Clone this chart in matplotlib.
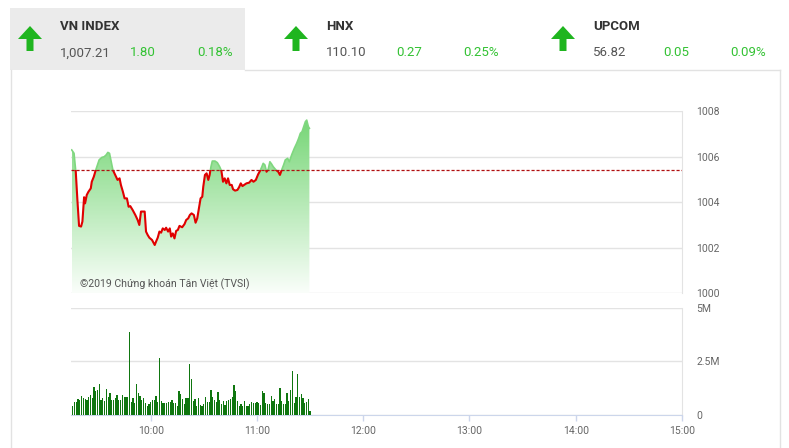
import numpy as np
import matplotlib
matplotlib.use("Agg")
import matplotlib.pyplot as plt
from matplotlib import font_manager
from matplotlib.patches import Rectangle, Polygon, PathPatch

# ---- data ----
# index line: minutes after 09:00, index value
price_min = [15.39, 16.71, 17.66, 18.61, 19.55, 20.68, 21.44, 22.39, 22.95, 23.90,
             24.84, 26.17, 26.73, 27.87, 29.00, 29.95, 30.89, 32.41, 33.73, 34.86,
             35.81, 36.75, 37.70, 38.64, 39.97, 41.29, 42.42, 43.18, 44.31, 45.26,
             46.58, 47.53, 48.47, 49.80, 51.31, 52.63, 53.58, 54.52, 55.47, 56.60,
             57.36, 58.30, 59.25, 60.76, 62.27, 63.03, 63.97, 64.92, 65.87, 66.81,
             67.95, 68.70, 69.83, 70.78, 71.54, 72.48, 73.43, 74.37, 75.32, 76.26,
             77.77, 79.10, 80.04, 81.18, 82.12, 83.07, 84.39, 85.34, 86.28, 87.23,
             88.17, 89.12, 89.68, 90.63, 91.57, 92.52, 93.28, 94.03, 94.79, 96.30,
             97.62, 98.95, 99.89, 100.84, 101.78, 102.73, 103.67, 104.62, 105.75, 106.51,
             107.64, 108.97, 109.91, 110.86, 111.80, 112.75, 114.07, 115.58, 116.91, 118.04,
             119.36, 120.69, 121.82, 122.77, 123.52, 124.47, 125.41, 126.36, 127.30, 128.25,
             129.19, 130.70, 132.03, 132.97, 134.11, 135.05, 136.00, 137.32, 138.27, 139.59,
             141.10, 142.43, 143.56, 144.51, 145.45, 146.40, 147.34, 148.10, 149.04, 149.61]
price_val = [1006.29, 1006.14, 1005.38, 1004.09, 1002.95, 1002.92, 1003.14, 1004.21, 1003.94, 1004.31,
             1004.45, 1004.60, 1004.89, 1005.11, 1005.41, 1005.63, 1005.85, 1005.96, 1005.99, 1006.07,
             1006.18, 1006.14, 1005.77, 1005.41, 1005.19, 1004.97, 1005.04, 1004.75, 1004.45, 1004.16,
             1004.16, 1003.79, 1003.82, 1003.65, 1003.43, 1003.21, 1002.99, 1003.58, 1003.58, 1003.58,
             1002.70, 1002.55, 1002.43, 1002.33, 1002.11, 1002.26, 1002.43, 1002.70, 1002.65, 1002.84,
             1002.77, 1002.87, 1002.70, 1002.84, 1002.48, 1002.62, 1002.40, 1002.73, 1002.77, 1002.95,
             1002.89, 1003.03, 1003.21, 1003.28, 1003.43, 1003.50, 1003.43, 1003.09, 1003.28, 1003.72,
             1004.16, 1004.23, 1004.67, 1005.19, 1005.26, 1004.97, 1005.19, 1005.55, 1005.80, 1005.80,
             1005.73, 1005.55, 1005.38, 1004.89, 1005.04, 1004.82, 1005.04, 1004.75, 1004.75, 1004.56,
             1004.50, 1004.53, 1004.65, 1004.82, 1004.70, 1004.75, 1004.82, 1004.85, 1004.97, 1004.89,
             1004.97, 1005.22, 1005.38, 1005.55, 1005.70, 1005.63, 1005.33, 1005.44, 1005.77, 1005.67,
             1005.55, 1005.41, 1005.33, 1005.19, 1005.44, 1005.63, 1005.85, 1005.92, 1005.77, 1006.07,
             1006.36, 1006.58, 1006.80, 1007.02, 1007.09, 1007.31, 1007.53, 1007.60, 1007.31, 1007.24]
ref_price = 1005.41

# volume per minute (millions), from 09:16
volume_m = [0.42, 0.61, 0.61, 0.73, 0.66, 0.88, 0.78, 0.75, 0.69, 0.83,
            0.92, 0.78, 1.30, 1.08, 1.16, 1.44, 0.66, 0.77, 0.63, 1.19,
            0.81, 1.02, 0.66, 0.69, 0.78, 0.92, 0.66, 0.69, 0.92, 0.84,
            0.84, 0.84, 3.88, 0.61, 0.78, 0.56, 1.44, 1.02, 0.89, 0.69,
            0.77, 0.56, 0.42, 0.48,
            0.58, 0.66, 0.69, 0.89, 0.59, 2.66, 0.63, 0.56, 0.53, 0.56,
            0.58, 0.58, 0.66, 0.53, 0.56, 0.42, 1.09, 0.97, 0.73, 0.50,
            0.78, 0.78, 2.38, 1.67, 0.63, 0.72, 0.42, 0.78, 0.44, 0.41,
            0.50, 0.81, 0.59, 0.58, 1.16, 0.81, 0.66, 0.58, 1.05, 0.66,
            0.50, 0.63, 0.44, 0.63,
            0.69, 0.73, 0.84, 1.39, 1.09, 0.63, 0.42, 0.50, 0.38, 0.63,
            0.42, 0.42, 0.50, 0.59, 0.56, 0.53, 0.58, 0.53, 0.45, 1.11,
            1.02, 0.56, 0.47, 0.50, 0.88, 0.63, 0.72, 0.50, 0.50, 1.25,
            0.63, 0.50, 0.47, 1.03, 0.63, 1.16, 2.03, 0.56, 0.84, 1.91,
            0.84, 0.97, 0.78, 0.56, 0.59, 0.73, 0.16]
volume_min = list(range(16, 16 + len(volume_m)))

hour_ticks = [60, 120, 180, 240, 300, 360]
hour_labels = ["10:00", "11:00", "12:00", "13:00", "14:00", "15:00"]
price_ticks = [1000, 1002, 1004, 1006, 1008]
vol_ticks = [0, 2.5, 5]
vol_labels = ["0", "2.5M", "5M"]

index_names = ["VN INDEX", "HNX", "UPCOM"]
index_values = ["1,007.21", "110.10", "56.82"]
index_change = ["1.80", "0.27", "0.05"]
index_pct = ["0.18%", "0.25%", "0.09%"]

# ---- fonts ----
names = {f.name for f in font_manager.fontManager.ttflist}
cond = "Liberation Sans Narrow" if "Liberation Sans Narrow" in names else "Roboto"
plt.rcParams['font.family'] = [cond, 'DejaVu Sans']

W, H = 789, 448
fig = plt.figure(figsize=(W / 100, H / 100), dpi=100)

def fx(px):
    return px / W

def fy(py):
    return 1 - py / H

# overlay in pixel coords for header and panel frame
ov = fig.add_axes([0, 0, 1, 1], zorder=-1)
ov.set_xlim(0, W)
ov.set_ylim(H, 0)
ov.axis('off')

ov.add_patch(Rectangle((10, 8), 235, 62, facecolor='#ebebeb', edgecolor='none'))
frame = '#e2e2e2'
ov.plot([11, 11], [70, H], color=frame, lw=1)
ov.plot([780, 780], [70, H], color=frame, lw=1)
ov.plot([245, 780], [70, 70], color=frame, lw=1)

arrow_green = '#1fb51f'
txt_green = '#33c233'
for i, x0 in enumerate([30, 296, 563]):
    ty = 26
    pts = [(x0, ty), (x0 + 12, ty + 13), (x0 + 3.5, ty + 13), (x0 + 3.5, ty + 25),
           (x0 - 3.5, ty + 25), (x0 - 3.5, ty + 13), (x0 - 12, ty + 13)]
    ov.add_patch(Polygon(pts, closed=True, facecolor=arrow_green, edgecolor='none'))
    tx = x0 + 30
    ov.text(tx, 27, index_names[i], fontsize=9.5, fontweight='bold', color='#333333',
            ha='left', va='center')
    ov.text(tx, 53, index_values[i], fontsize=9.5, color='#555555', ha='left', va='center')
    ov.text(tx + 70, 53, index_change[i], fontsize=9.5, color=txt_green, ha='left', va='center')
    ov.text(tx + 137, 53, index_pct[i], fontsize=9.5, color=txt_green, ha='left', va='center')

grid_c = '#e3e3e3'
lab_c = '#666666'
x0m, x1m = 15, 360

# ---- price panel ----
ax = fig.add_axes([fx(71), fy(293), fx(682 - 71), (293 - 111) / H])
ax.set_facecolor('none')
ax.set_xlim(x0m, x1m)
ax.set_ylim(1000, 1008)

t = np.array(price_min)
v = np.array(price_val)
poly = ax.fill_between(t, v, 1000, facecolor='none', edgecolor='none')
clip = PathPatch(poly.get_paths()[0], transform=ax.transData, facecolor='none', edgecolor='none')
ax.add_patch(clip)
top_rgb = np.array([112, 212, 112]) / 255
bot_rgb = np.array([250, 254, 250]) / 255
k = np.linspace(0, 1, 256)[:, None]
grad = (bot_rgb[None, :] * (1 - k) + top_rgb[None, :] * k)[:, None, :]
im = ax.imshow(grad, extent=[t[0], t[-1], 1000, 1008], origin='lower', aspect='auto',
               interpolation='bilinear', zorder=1)
im.set_clip_path(clip)

lo = Rectangle((x0m, 1000), x1m - x0m, ref_price - 1000, transform=ax.transData)
hi = Rectangle((x0m, ref_price), x1m - x0m, 1008 - ref_price, transform=ax.transData)
red_line, = ax.plot(t, v, color='#e00000', lw=1.5, zorder=3)
red_line.set_clip_path(lo)
grn_line, = ax.plot(t, v, color='#7fd77f', lw=1.2, zorder=3)
grn_line.set_clip_path(hi)
ax.axhline(ref_price, color='#b01010', lw=0.9, dashes=(2.5, 1.5), zorder=4)

ax.set_yticks(price_ticks)
ax.yaxis.tick_right()
ax.tick_params(axis='y', length=0, pad=10.5, labelsize=7.5, labelcolor=lab_c)
ax.set_yticklabels([str(p) for p in price_ticks], ha='left')
ax.set_xticks([])
ax.grid(axis='y', color=grid_c, lw=1)
ax.set_axisbelow(True)
for s in ['left', 'top', 'bottom']:
    ax.spines[s].set_visible(False)
ax.spines['right'].set_color(grid_c)
ax.text(0.015, 0.048, "©2019 Chứng khoán Tân Việt (TVSI)", transform=ax.transAxes,
        family=['Roboto', 'DejaVu Sans'], fontsize=7.6, color='#555555', ha='left', va='center',
        zorder=5)

# ---- volume panel ----
vx = fig.add_axes([fx(71), fy(414.5), fx(682 - 71), (414.5 - 308) / H])
vx.set_facecolor('none')
vx.set_xlim(x0m, x1m)
vx.set_ylim(0, 5)
vx.bar(volume_min, volume_m, width=0.7, color='#0f760f', zorder=3)
vx.set_yticks(vol_ticks)
vx.set_yticklabels(vol_labels, ha='left')
vx.yaxis.tick_right()
vx.tick_params(axis='y', length=0, pad=10.5, labelsize=7.5, labelcolor=lab_c)
vx.set_xticks(hour_ticks)
vx.set_xticklabels(hour_labels)
vx.tick_params(axis='x', length=4, width=1, color='#ccd6eb', pad=4, labelsize=7.5,
               labelcolor=lab_c)
vx.grid(axis='y', color=grid_c, lw=1)
vx.set_axisbelow(True)
for s in ['left', 'top']:
    vx.spines[s].set_visible(False)
vx.spines['right'].set_color(grid_c)
vx.spines['bottom'].set_color('#ccd6eb')

fig.savefig("out.png", dpi=100, facecolor='white')
